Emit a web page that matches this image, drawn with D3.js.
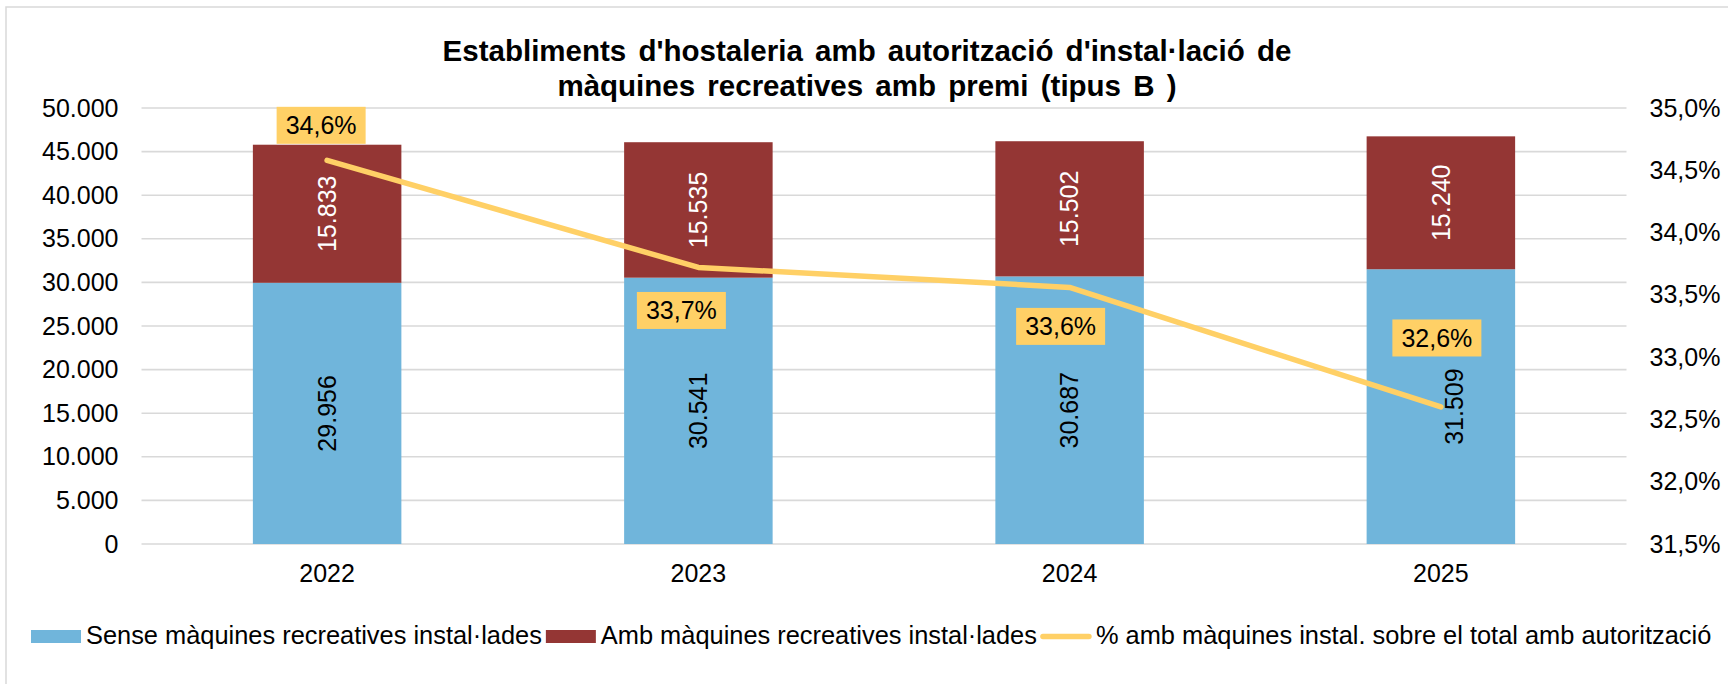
<!DOCTYPE html>
<html>
<head>
<meta charset="utf-8">
<script src="https://cdn.jsdelivr.net/npm/d3@7"></script>
<style>
  body { margin: 0; background: #fff; }
  svg text { font-family: "Liberation Sans", Arial, sans-serif; }
</style>
</head>
<body>
<svg id="chart"></svg>
<script>
  // data
  const years = ["2022", "2023", "2024", "2025"];
  const sense = [29956, 30541, 30687, 31509];   // Sense màquines
  const amb = [15833, 15535, 15502, 15240];     // Amb màquines
  const pct = [34.58, 33.72, 33.56, 32.60];     // % amb màquines
  const pctLabels = ["34,6%", "33,7%", "33,6%", "32,6%"];
  const leftTicks = [0, 5000, 10000, 15000, 20000, 25000, 30000, 35000, 40000, 45000, 50000];
  const rightTicks = [31.5, 32, 32.5, 33, 33.5, 34, 34.5, 35];
  const seriesNames = ["Sense màquines recreatives instal·lades",
    "Amb màquines recreatives instal·lades",
    "% amb màquines instal. sobre el total amb autorització"];
  const titleLines = ["Establiments d'hostaleria amb autorització d'instal·lació de",
    "màquines recreatives amb premi (tipus B )"];

  // where the % labels were dragged to, relative to their point
  const pctLabelShift = [[-6, -35], [-17, 43], [-9, 39], [-4, -69]];
  const senseLabelShift = [0, 0, 0, 13];

  const W = 1728, H = 684;
  const margin = {top: 108, right: W - 1626.5, bottom: H - 544, left: 141.5};
  const width = W - margin.left - margin.right,
        height = H - margin.top - margin.bottom;

  const blue = "#70b5db", red = "#943634", yellow = "#ffd066";
  const fs = 25;

  const loc = d3.formatLocale({decimal: ",", thousands: ".", grouping: [3], currency: ["", "€"]});
  const fmtN = loc.format(",d");
  const fmtP = d => loc.format(".1f")(d) + "%";

  const root = d3.select("#chart").attr("width", W).attr("height", H);

  root.append("rect")
    .attr("x", 6).attr("y", 7)
    .attr("width", W + 20).attr("height", H + 20)
    .attr("fill", "#fff")
    .attr("stroke", "#d9d9d9")
    .attr("stroke-width", 1.5);

  // title
  root.append("text")
    .attr("text-anchor", "middle")
    .attr("font-weight", "bold")
    .attr("font-size", 29.5)
    .attr("word-spacing", 4)
    .selectAll("tspan")
    .data(titleLines)
    .enter().append("tspan")
      .attr("x", 867)
      .attr("y", (d, i) => 61 + i * 35)
      .text(d => d);

  const svg = root.append("g")
    .attr("transform", "translate(" + margin.left + "," + margin.top + ")");

  const x = d3.scaleBand()
    .domain(years)
    .range([0, width])
    .paddingInner(0.6)
    .paddingOuter(0.3);

  const y = d3.scaleLinear().domain([0, 50000]).range([height, 0]);
  const y2 = d3.scaleLinear().domain([31.5, 35]).range([height, 0]);

  // gridlines
  svg.append("g")
    .selectAll("line")
    .data(leftTicks)
    .enter().append("line")
      .attr("x1", 0).attr("x2", width)
      .attr("y1", d => y(d)).attr("y2", d => y(d))
      .attr("stroke", "#d9d9d9")
      .attr("stroke-width", 1.6);

  // left axis
  const yAxis = svg.append("g")
    .call(d3.axisLeft(y).tickValues(leftTicks).tickFormat(fmtN).tickSize(0).tickPadding(23));
  yAxis.select(".domain").remove();
  yAxis.selectAll("text").attr("font-size", fs).attr("fill", "#000").attr("font-family", null);

  // right axis
  const y2Axis = svg.append("g")
    .attr("transform", "translate(" + width + ",0)")
    .call(d3.axisRight(y2).tickValues(rightTicks).tickFormat(fmtP).tickSize(0).tickPadding(23));
  y2Axis.select(".domain").remove();
  y2Axis.selectAll("text").attr("font-size", fs).attr("fill", "#000").attr("font-family", null);

  // bottom axis
  const xAxis = svg.append("g")
    .attr("transform", "translate(0," + height + ")")
    .call(d3.axisBottom(x).tickSize(0).tickPadding(20));
  xAxis.select(".domain").remove();
  xAxis.selectAll("text").attr("font-size", fs).attr("fill", "#000").attr("font-family", null);

  const rows = years.map((yr, i) => ({year: yr, sense: sense[i], amb: amb[i], pct: pct[i], i: i}));

  // stacked bars
  svg.append("g").selectAll("rect")
    .data(rows)
    .enter().append("rect")
      .attr("x", d => x(d.year))
      .attr("width", x.bandwidth())
      .attr("y", d => y(d.sense))
      .attr("height", d => height - y(d.sense))
      .attr("fill", blue);

  svg.append("g").selectAll("rect")
    .data(rows)
    .enter().append("rect")
      .attr("x", d => x(d.year))
      .attr("width", x.bandwidth())
      .attr("y", d => y(d.sense + d.amb))
      .attr("height", d => y(d.sense) - y(d.sense + d.amb))
      .attr("fill", red);

  // rotated value labels
  const cx = d => x(d.year) + x.bandwidth() / 2;

  svg.append("g").selectAll("text")
    .data(rows)
    .enter().append("text")
      .attr("transform", d => "translate(" + (cx(d) + senseLabelShift[d.i]) + "," + y(d.sense / 2) + ") rotate(-90)")
      .attr("text-anchor", "middle")
      .attr("dy", "0.35em")
      .attr("font-size", fs)
      .attr("fill", "#000")
      .text(d => fmtN(d.sense));

  svg.append("g").selectAll("text")
    .data(rows)
    .enter().append("text")
      .attr("transform", d => "translate(" + cx(d) + "," + y(d.sense + d.amb / 2) + ") rotate(-90)")
      .attr("text-anchor", "middle")
      .attr("dy", "0.35em")
      .attr("font-size", fs)
      .attr("fill", "#fff")
      .text(d => fmtN(d.amb));

  // percentage line
  const line = d3.line().x(d => cx(d)).y(d => y2(d.pct));
  svg.append("path")
    .datum(rows)
    .attr("d", line)
    .attr("fill", "none")
    .attr("stroke", yellow)
    .attr("stroke-width", 5.5)
    .attr("stroke-linecap", "round")
    .attr("stroke-linejoin", "round");

  // percentage labels in boxes
  const pl = svg.append("g").selectAll("g")
    .data(rows)
    .enter().append("g")
      .attr("transform", d => "translate(" + (cx(d) + pctLabelShift[d.i][0]) + "," + (y2(d.pct) + pctLabelShift[d.i][1]) + ")");
  pl.append("rect")
    .attr("x", -44.5).attr("y", -18.5)
    .attr("width", 89).attr("height", 37)
    .attr("fill", yellow);
  pl.append("text")
    .attr("text-anchor", "middle")
    .attr("dy", "0.36em")
    .attr("font-size", fs)
    .attr("fill", "#000")
    .text(d => pctLabels[d.i]);

  // legend
  const leg = root.append("g").attr("transform", "translate(31,636.5)");
  let lx = 0;
  seriesNames.forEach((name, i) => {
    if (i < 2) {
      leg.append("rect")
        .attr("x", lx).attr("y", -6.5)
        .attr("width", 50).attr("height", 13)
        .attr("fill", i === 0 ? blue : red);
    } else {
      leg.append("line")
        .attr("x1", lx + 2).attr("x2", lx + 48)
        .attr("y1", 0).attr("y2", 0)
        .attr("stroke", yellow)
        .attr("stroke-width", 5.5)
        .attr("stroke-linecap", "round");
    }
    const t = leg.append("text")
      .attr("x", lx + 55)
      .attr("y", 7)
      .attr("font-size", 25.4)
      .attr("fill", "#000")
      .text(name);
    lx += 55 + t.node().getComputedTextLength() + 4;
  });
</script>
</body>
</html>
